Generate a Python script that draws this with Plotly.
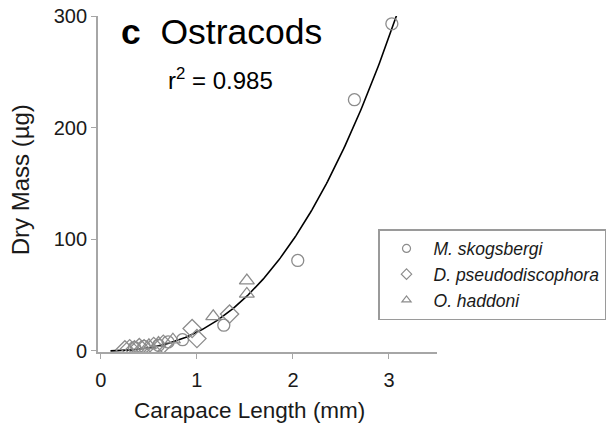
import plotly.graph_objects as go
import numpy as np

# Data
ms_length = [0.35, 0.45, 0.60, 0.70, 0.85, 1.28, 2.05, 2.64, 3.03]
ms_mass = [3, 4, 5, 8, 10, 23, 81, 225, 293]

dp_length = [0.25, 0.30, 0.35, 0.40, 0.45, 0.55, 0.65, 0.95, 1.00, 1.34]
dp_mass = [1, 2, 1, 3, 2, 4, 6, 20, 11, 33]

oh_length = [0.50, 0.60, 0.75, 1.17, 1.52, 1.52]
oh_mass = [5, 7, 10, 31, 51, 63]

# power-law fit parameters (y = a * x^b)
fit_a = 16.7
fit_b = 2.57
fit_xmin, fit_xmax = 0.10, 3.08

species = ["M. skogsbergi", "D. pseudodiscophora", "O. haddoni"]
symbols = ["circle-open", "diamond-open", "triangle-up-open"]

FONT = "Arial, Liberation Sans, sans-serif"
GRAY = "#8c8c8c"
AXIS = "#a6a6a6"

fig = go.Figure()

fit_x = np.linspace(fit_xmin, fit_xmax, 200)
fig.add_trace(go.Scatter(x=fit_x, y=fit_a * fit_x ** fit_b, mode="lines",
                         line=dict(color="black", width=1.6), showlegend=False,
                         hoverinfo="skip"))

series = [(ms_length, ms_mass, 12), (dp_length, dp_mass, 14), (oh_length, oh_mass, 13)]
for (xs, ys, sz), sym in zip(series, symbols):
    fig.add_trace(go.Scatter(x=xs, y=ys, mode="markers", showlegend=False,
                             marker=dict(symbol=sym, size=sz, color=GRAY,
                                         line=dict(color=GRAY, width=1.3))))

for name, sym in zip(species, symbols):
    fig.add_trace(go.Scatter(x=[None], y=[None], mode="markers", name=name,
                             marker=dict(symbol=sym, size=8, color=GRAY,
                                         line=dict(color=GRAY, width=1.2))))

fig.update_layout(
    width=616, height=430,
    margin=dict(l=98, r=179, t=16, b=78, autoexpand=False),
    paper_bgcolor="white", plot_bgcolor="white",
    font=dict(family=FONT, color="#1a1a1a"),
    showlegend=True,
    legend=dict(x=0.826, y=0.366, xanchor="left", yanchor="top",
                bordercolor="#9a9a9a", borderwidth=1.5,
                font=dict(family=FONT, size=17.5, style="italic", color="#1a1a1a"),
                itemwidth=44, bgcolor="white"),
    xaxis=dict(range=[-0.03, 3.5], tickvals=[0, 1, 2, 3], ticks="outside",
               ticklen=5, tickcolor=AXIS, tickwidth=1.2, showline=True,
               linecolor=AXIS, linewidth=1.8, showgrid=False, zeroline=False,
               automargin=False, ticklabelstandoff=4,
               tickfont=dict(size=20, family=FONT, color="#1a1a1a")),
    yaxis=dict(range=[-1, 300], tickvals=[0, 100, 200, 300], ticks="outside",
               ticklen=5, tickcolor=AXIS, tickwidth=1.2, showline=True,
               linecolor=AXIS, linewidth=1.8, showgrid=False, zeroline=False,
               automargin=False,
               tickfont=dict(size=20, family=FONT, color="#1a1a1a")),
)

# axis titles
fig.add_annotation(x=0.448, y=-0.173, xref="paper", yref="paper", xanchor="center",
                   yanchor="middle", text="Carapace Length (mm)", showarrow=False,
                   font=dict(size=22.5, family=FONT, color="#1a1a1a"))
fig.add_annotation(x=-0.226, y=0.512, xref="paper", yref="paper", xanchor="center",
                   yanchor="middle", text="Dry Mass (µg)", textangle=-90, showarrow=False,
                   font=dict(size=24, family=FONT, color="#1a1a1a"))

fig.add_annotation(x=0.19, y=266, xref="x", yref="y", xanchor="left", yanchor="bottom",
                   text="<b>c</b>  Ostracods", showarrow=False,
                   font=dict(size=35.5, family=FONT, color="black"))
fig.add_annotation(x=0.68, y=228, xref="x", yref="y", xanchor="left", yanchor="bottom",
                   text="r<sup>2</sup> = 0.985", showarrow=False,
                   font=dict(size=24, family=FONT, color="black"))

fig.write_html("out.html")
